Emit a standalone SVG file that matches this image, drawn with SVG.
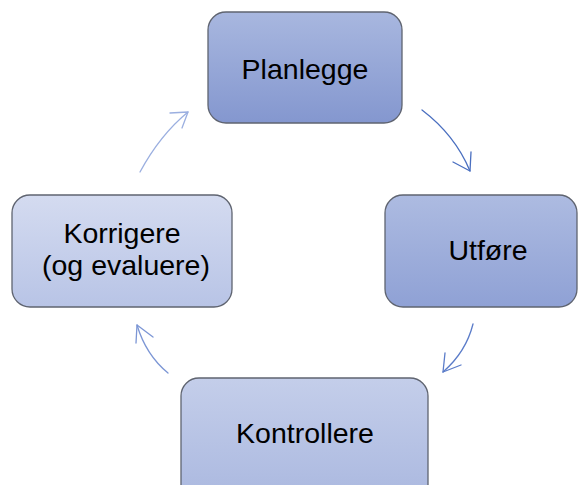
<svg xmlns="http://www.w3.org/2000/svg" width="578" height="485" viewBox="0 0 578 485">
<defs>
<linearGradient id="g1" x1="0" y1="0" x2="0" y2="1"><stop offset="0" stop-color="#a8b7df"/><stop offset="1" stop-color="#8497cf"/></linearGradient>
<linearGradient id="g2" x1="0" y1="0" x2="0" y2="1"><stop offset="0" stop-color="#adbbe1"/><stop offset="1" stop-color="#8fa1d5"/></linearGradient>
<linearGradient id="g3" x1="0" y1="0" x2="0" y2="1"><stop offset="0" stop-color="#c4ceea"/><stop offset="1" stop-color="#a9b7df"/></linearGradient>
<linearGradient id="g4" x1="0" y1="0" x2="0" y2="1"><stop offset="0" stop-color="#d4dbf0"/><stop offset="1" stop-color="#b8c4e6"/></linearGradient>
</defs>
<style>
.box{stroke:#5f6470;stroke-width:1.3}
.lbl{font-family:"Liberation Sans",Arial,sans-serif;font-size:28.5px;fill:#000;text-anchor:middle}
.arr{fill:none;stroke-width:1.3;stroke-linecap:round;stroke-linejoin:round}
</style>
<rect width="578" height="485" fill="#fff"/>
<g id="connectors">
<g stroke="#4a6fc0" class="arr"><path d="M422,110 Q455,135 470,171"/><path d="M453,162 L470,171 L471,152"/></g>
<g stroke="#5b7cc9" class="arr"><path d="M473,324 Q466,352 443,372"/><path d="M445,353 L443,372 L461,365"/></g>
<g stroke="#7c96d5" class="arr"><path d="M168,373 Q146,355 137,325"/><path d="M136,343 L137,325 L153,337"/></g>
<g stroke="#9bafe0" class="arr"><path d="M140,172 Q160,135 188,112"/><path d="M170,113 L188,112 L182,128"/></g>
</g>
<g id="planlegge"><rect class="box" x="208" y="12" width="194" height="111" rx="18" fill="url(#g1)"/><text class="lbl" x="305" y="79">Planlegge</text></g>
<g id="utfore"><rect class="box" x="385" y="195" width="192" height="112" rx="18" fill="url(#g2)"/><text class="lbl" x="488" y="260">Utføre</text></g>
<g id="kontrollere"><rect class="box" x="181" y="378" width="247" height="130" rx="18" fill="url(#g3)"/><text class="lbl" x="305" y="443">Kontrollere</text></g>
<g id="korrigere"><rect class="box" x="12" y="195" width="220" height="112" rx="18" fill="url(#g4)"/><text class="lbl" x="122" y="243">Korrigere</text><text class="lbl" x="126" y="275">(og evaluere)</text></g>
</svg>
